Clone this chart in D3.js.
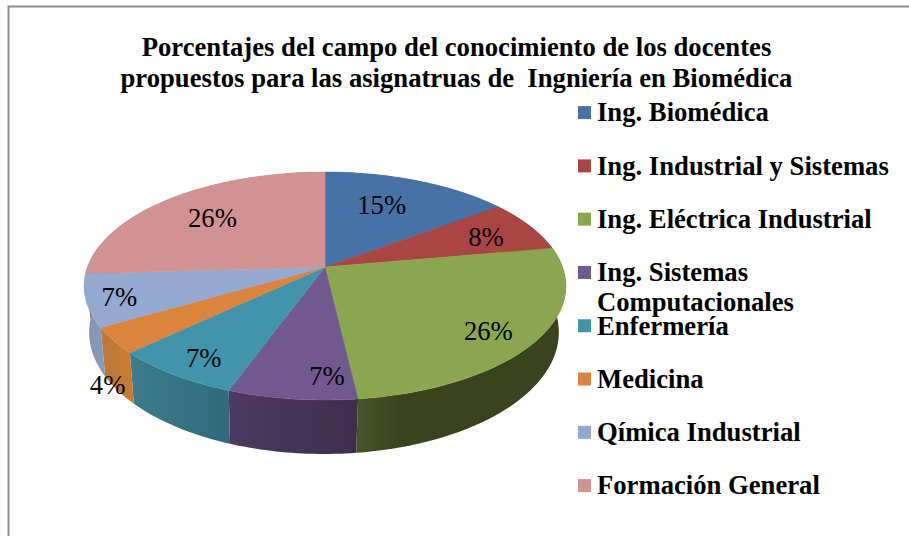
<!DOCTYPE html>
<html>
<head>
<meta charset="utf-8">
<style>
  html, body { margin: 0; padding: 0; background: #fff; overflow: hidden; }
  text { font-family: "Liberation Serif", "Times New Roman", serif; fill: #000; }
  .title { font-weight: bold; font-size: 26.67px; text-anchor: middle; white-space: pre; }
  .legend text { font-weight: bold; font-size: 26.67px; }
  .pct { font-size: 26.67px; text-anchor: middle; }
</style>
</head>
<body>
<script src="https://d3js.org/d3.v7.min.js"></script>
<script>
var titleLines = [
  "Porcentajes del campo del conocimiento de los docentes",
  "propuestos para las asignatruas de  Ingniería en Biomédica"
];
var categories = [
  "Ing. Biomédica", "Ing. Industrial y Sistemas", "Ing. Eléctrica Industrial",
  "Ing. Sistemas Computacionales", "Enfermería", "Medicina",
  "Qímica Industrial", "Formación General"
];
// slice sizes, the printed labels are rounded
var shares = [14.8, 7.4, 25.9, 7.4, 7.4, 3.7, 7.4, 25.9];
var pctLabels = ["15%", "8%", "26%", "7%", "7%", "4%", "7%", "26%"];

var colors = ["#4672a8", "#a94543", "#8aa64e", "#71588f", "#4095ad", "#db843d", "#93a9cf", "#d19392"];
var wallLeft = ["#34557e", "#7e3332", "#475629", "#4c3a60", "#3b7c8e", "#b97a3c", "#7f93b6", "#9c6e6d"];
var wallRight = ["#34557e", "#7e3332", "#39441e", "#3d2e4e", "#2f6b79", "#c77a32", "#8799bb", "#9c6e6d"];
// where along the slice the wall reaches its right hand colour
var wallEnd = [1, 1, 0.2, 1, 1, 1, 1, 1];

// nudges from the default label spot on the slice
var labelNudge = [[-6.5, -3.4], [25, -2.7], [31, 18], [22, 29], [-28, 25], [-85, 72], [-53, 9], [-8, -3]];

var width = 909, height = 536;
var cx = 325, cy = 267;
var rx = 237.5, ry = 110.8, persp = 0.1667, depth = 45, shrink = 0.025, rimShift = -1;

var svg = d3.select("body").append("svg")
    .attr("width", width)
    .attr("height", height);

svg.append("rect")
    .attr("x", 8.5)
    .attr("y", 6.5)
    .attr("width", width + 20)
    .attr("height", height + 20)
    .attr("fill", "#fff")
    .attr("stroke", "#8c8c8c")
    .attr("stroke-width", 2);

svg.selectAll(".title")
    .data(titleLines)
    .enter().append("text")
    .attr("class", "title")
    .attr("x", 456.5)
    .attr("y", function(d, i) { return 56 + i * 30.5; })
    .attr("xml:space", "preserve")
    .text(function(d) { return d; });

// disc seen in perspective, z = 0 top face, z = 1 bottom rim
function project(angle, r, z) {
  var X = r * Math.sin(angle), Y = -r * Math.cos(angle);
  var d = 1 - persp * Y;
  return [
    cx + rimShift * z + rx * X * (1 - shrink * z) / d,
    cy + (ry * Y + depth * z) / d
  ];
}

function arcPoints(a0, a1, z) {
  var n = Math.max(2, Math.ceil((a1 - a0) / 0.02));
  return d3.range(n + 1).map(function(i) {
    return project(a0 + (a1 - a0) * i / n, 1, z);
  });
}

var line = d3.line();
var arcs = d3.pie().sort(null).value(function(d) { return d; })(shares);

var defs = svg.append("defs");
arcs.forEach(function(d, i) {
  var xs = arcPoints(d.startAngle, d.endAngle, 0).map(function(p) { return p[0]; });
  var g = defs.append("linearGradient")
      .attr("id", "wall" + i)
      .attr("gradientUnits", "userSpaceOnUse")
      .attr("x1", d3.min(xs)).attr("x2", d3.max(xs))
      .attr("y1", 0).attr("y2", 0);
  g.append("stop").attr("offset", 0).attr("stop-color", wallLeft[i]);
  g.append("stop").attr("offset", wallEnd[i]).attr("stop-color", wallRight[i]);
});

var pie = svg.append("g").attr("class", "pie");

// walls first, the top face covers whatever is behind
pie.selectAll(".wall")
    .data(arcs)
    .enter().append("path")
    .attr("class", "wall")
    .attr("fill", function(d, i) { return "url(#wall" + i + ")"; })
    .attr("d", function(d) {
      var top = arcPoints(d.startAngle, d.endAngle, 0);
      var bottom = arcPoints(d.startAngle, d.endAngle, 1).reverse();
      return line(top.concat(bottom)) + "Z";
    });

pie.selectAll(".slice")
    .data(arcs)
    .enter().append("path")
    .attr("class", "slice")
    .attr("fill", function(d, i) { return colors[i]; })
    .attr("stroke", function(d, i) { return colors[i]; })
    .attr("stroke-width", 0.5)
    .attr("d", function(d) {
      return line([[cx, cy]].concat(arcPoints(d.startAngle, d.endAngle, 0))) + "Z";
    });

pie.selectAll(".pct")
    .data(arcs)
    .enter().append("text")
    .attr("class", "pct")
    .attr("x", function(d, i) { return project((d.startAngle + d.endAngle) / 2, 0.65, 0)[0] + labelNudge[i][0]; })
    .attr("y", function(d, i) { return project((d.startAngle + d.endAngle) / 2, 0.65, 0)[1] + labelNudge[i][1] + 9; })
    .text(function(d, i) { return pctLabels[i]; });

var legendY = d3.scaleLinear().domain([0, 7]).range([112.6, 485.6]);

var legend = svg.selectAll(".legend")
    .data(categories)
    .enter().append("g")
    .attr("class", "legend")
    .attr("transform", function(d, i) { return "translate(578," + legendY(i) + ")"; });

legend.append("rect")
    .attr("y", -6.5)
    .attr("width", 13)
    .attr("height", 13)
    .attr("fill", function(d, i) { return colors[i]; });

legend.append("text")
    .attr("x", 19)
    .attr("y", 8.8)
    .text(function(d) { return d === "Ing. Sistemas Computacionales" ? "Ing. Sistemas" : d; });

legend.filter(function(d) { return d === "Ing. Sistemas Computacionales"; })
    .append("text")
    .attr("x", 19)
    .attr("y", 39)
    .text("Computacionales");
</script>
</body>
</html>
